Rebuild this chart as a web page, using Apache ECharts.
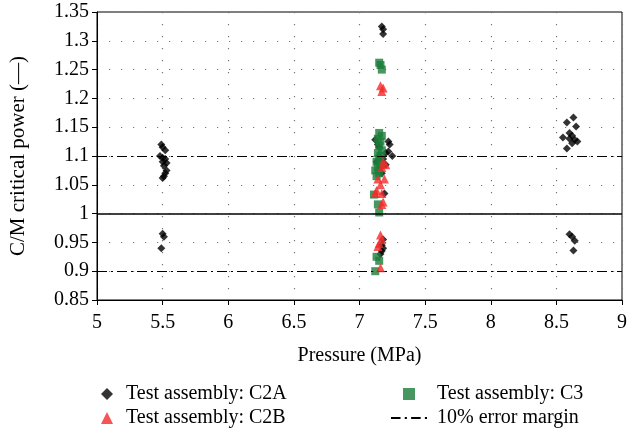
<!DOCTYPE html>
<html><head><meta charset="utf-8">
<script src="https://cdn.jsdelivr.net/npm/echarts@6/dist/echarts.min.js"></script>
<style>html,body{margin:0;padding:0;background:#fff}#c{width:639px;height:446px}</style>
</head><body><div id="c"></div>
<script>
var xTicks = {min: 5, max: 9, interval: 0.5};
var yTicks = {min: 0.85, max: 1.35, interval: 0.05};
var errorMargins = [1.1, 0.9];
var referenceLine = 1.0;
var seriesNames = ["Test assembly: C2A", "Test assembly: C2B", "Test assembly: C3", "10% error margin"];

var c2a = [
  [5.49,1.12],[5.5,1.115],[5.52,1.11],[5.48,1.1],[5.5,1.097],[5.52,1.095],[5.5,1.09],[5.53,1.088],
  [5.51,1.083],[5.53,1.075],[5.52,1.07],[5.51,1.065],[5.5,1.062],[5.5,0.965],[5.51,0.96],[5.49,0.94],
  [7.17,1.325],[7.18,1.32],[7.18,1.312],[7.12,1.128],[7.22,1.125],[7.23,1.12],[7.14,1.12],[7.15,1.115],
  [7.22,1.108],[7.25,1.1],[7.2,1.105],[7.18,1.095],[7.15,1.1],[7.13,1.09],[7.2,1.085],[7.16,1.08],
  [7.17,1.07],[7.19,1.035],[7.18,0.955],[7.17,0.945],[7.18,0.94],[7.17,0.935],[7.16,0.93],
  [8.63,1.167],[8.58,1.158],[8.65,1.151],[8.55,1.132],[8.6,1.14],[8.62,1.135],[8.6,1.13],[8.64,1.128],
  [8.66,1.125],[8.62,1.122],[8.58,1.113],[8.6,0.964],[8.62,0.96],[8.64,0.953],[8.63,0.936]
];
var c2b = [
  [7.16,1.222],[7.18,1.218],[7.17,1.212],[7.18,1.09],[7.2,1.085],[7.17,1.08],[7.14,1.06],[7.19,1.06],
  [7.16,1.05],[7.13,1.04],[7.12,1.035],[7.17,1.035],[7.18,1.02],[7.17,1.016],[7.16,0.963],[7.17,0.955],
  [7.15,0.948],[7.14,0.943],[7.16,0.906]
];
var c3 = [
  [7.15,1.262],[7.16,1.258],[7.17,1.25],[7.15,1.14],[7.17,1.135],[7.14,1.13],[7.16,1.125],[7.15,1.118],
  [7.17,1.11],[7.14,1.105],[7.16,1.1],[7.15,1.095],[7.13,1.09],[7.16,1.085],[7.14,1.08],[7.12,1.075],
  [7.15,1.07],[7.13,1.065],[7.11,1.033],[7.14,1.016],[7.15,1.002],[7.13,0.925],[7.15,0.918],[7.12,0.9]
];

var FONT = '"Liberation Serif", "DejaVu Serif", serif';
var RED = '#f52a2a', GREEN = '#1a7d3a';
var dashDotIcon = 'path://M0,0h9v2h-9z M13,0h2v2h-2z M19,0h9v2h-9z M32,0h2v2h-2z';

var chart = echarts.init(document.getElementById('c'), null, {renderer: 'canvas'});
chart.setOption({
  animation: false,
  backgroundColor: '#fff',
  textStyle: {fontFamily: FONT, color: '#000'},
  grid: {left: 97, right: 17, top: 12, bottom: 146, show: true, borderColor: '#000', borderWidth: 1},
  xAxis: {
    type: 'value', min: xTicks.min, max: xTicks.max, interval: xTicks.interval,
    name: 'Pressure (MPa)', nameLocation: 'middle', nameGap: 46,
    nameTextStyle: {fontFamily: FONT, fontSize: 20, color: '#000'},
    axisLine: {lineStyle: {color: '#000', width: 1}},
    axisTick: {show: true, inside: false, length: 5, lineStyle: {color: '#000'}},
    axisLabel: {fontFamily: FONT, fontSize: 20, color: '#000', margin: 13},
    splitLine: {show: true, lineStyle: {color: '#777', width: 1.2, type: [1.2, 10.8]}}
  },
  yAxis: {
    type: 'value', min: yTicks.min, max: yTicks.max, interval: yTicks.interval,
    name: 'C/M critical power (—)', nameLocation: 'middle', nameGap: 68, nameRotate: 90,
    nameTextStyle: {fontFamily: FONT, fontSize: 21, color: '#000'},
    axisLine: {show: true, lineStyle: {color: '#000', width: 1}},
    axisTick: {show: true, inside: false, length: 5, lineStyle: {color: '#000'}},
    axisLabel: {fontFamily: FONT, fontSize: 20, color: '#000', margin: 8,
      formatter: function (v) { return String(parseFloat(v.toFixed(2))); }},
    splitLine: {show: true, lineStyle: {color: '#777', width: 1.2, type: [1.2, 10.8]}}
  },
  legend: [
    {left: 96, top: 379, orient: 'vertical', itemGap: 4, itemWidth: 12, itemHeight: 12,
     textStyle: {fontFamily: FONT, fontSize: 20, color: '#000', padding: [0, 0, 0, 8]},
     data: [{name: seriesNames[0]}, {name: seriesNames[1]}]},
    {left: 386, top: 379, orient: 'vertical', itemGap: 4, itemWidth: 36, itemHeight: 12,
     textStyle: {fontFamily: FONT, fontSize: 20, color: '#000', padding: [0, 0, 0, 5]},
     data: [{name: seriesNames[2], icon: 'path://M14,0h9v9h-9z'}, {name: seriesNames[3], icon: dashDotIcon}]}
  ],
  series: [
    {name: seriesNames[3], type: 'line', data: [], symbol: 'none',
     itemStyle: {color: '#000'}, lineStyle: {color: '#000', width: 1.2, type: [10, 4, 2, 4]},
     markLine: {silent: true, symbol: 'none', label: {show: false},
       lineStyle: {color: '#000', width: 1.2, type: [10, 4, 2, 4]},
       data: errorMargins.map(function (v) { return {yAxis: v}; })}},
    {name: 'ref', type: 'line', data: [], symbol: 'none',
     markLine: {silent: true, symbol: 'none', label: {show: false},
       lineStyle: {color: '#000', width: 1.5, type: 'solid'},
       data: [{yAxis: referenceLine}]}},
    {name: seriesNames[0], type: 'scatter', data: c2a, symbol: 'diamond', symbolSize: 8,
     itemStyle: {color: '#000'}, z: 3},
    {name: seriesNames[2], type: 'scatter', data: c3, symbol: 'rect', symbolSize: 8,
     itemStyle: {color: GREEN}, z: 4},
    {name: seriesNames[1], type: 'scatter', data: c2b, symbol: 'triangle', symbolSize: 9,
     itemStyle: {color: RED}, z: 5}
  ]
});
</script></body></html>
